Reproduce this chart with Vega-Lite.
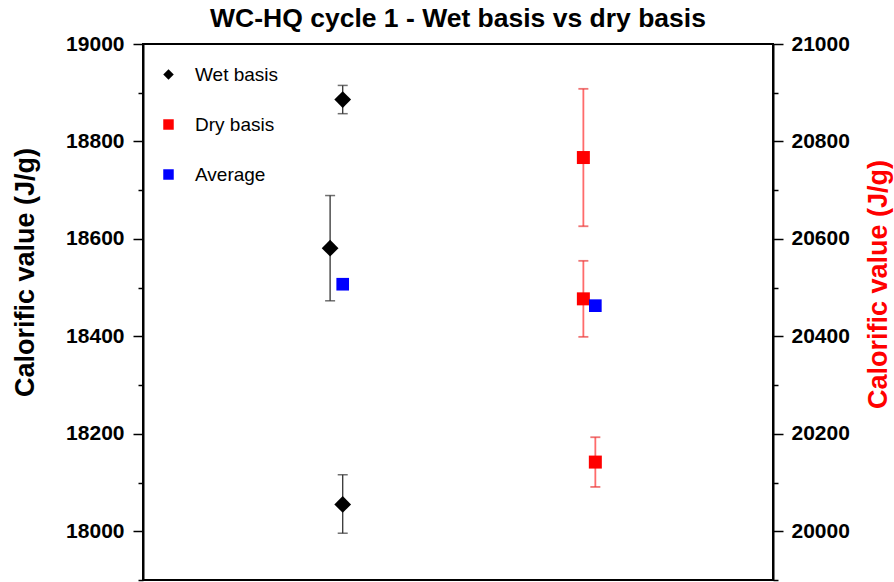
{
  "$schema": "https://vega.github.io/schema/vega-lite/v6.json",
  "autosize": {"type": "none"},
  "padding": {"left": 143, "top": 44, "right": 121, "bottom": 2},
  "width": 630,
  "height": 536,
  "background": "white",
  "title": {
    "text": "WC-HQ cycle 1 - Wet basis vs dry basis",
    "font": "Liberation Sans",
    "fontSize": 26.5,
    "fontWeight": "bold",
    "color": "black",
    "anchor": "middle",
    "frame": "group",
    "baseline": "alphabetic",
    "offset": 0,
    "dy": 20
  },
  "config": {
    "view": {"stroke": "black", "strokeWidth": 2},
    "font": "Liberation Sans",
    "legend": {
      "orient": "none",
      "legendX": 16,
      "legendY": 21,
      "title": null,
      "labelFont": "Liberation Sans",
      "labelFontSize": 19,
      "labelColor": "black",
      "symbolSize": 110,
      "rowPadding": 30,
      "labelOffset": 17,
      "padding": 0,
      "symbolStrokeWidth": 0
    }
  },
  "datasets": {
    "left": [
      {"series": "Wet basis", "x": 3.17, "v": 18886, "lo": 18857, "hi": 18915},
      {"series": "Wet basis", "x": 2.97, "v": 18581, "lo": 18473, "hi": 18689},
      {"series": "Wet basis", "x": 3.17, "v": 18055, "lo": 17996, "hi": 18116},
      {"series": "Average", "x": 3.17, "v": 18507}
    ],
    "right": [
      {"series": "Dry basis", "x": 6.99, "v": 20767, "lo": 20626, "hi": 20908},
      {"series": "Dry basis", "x": 6.99, "v": 20477, "lo": 20399, "hi": 20555},
      {"series": "Dry basis", "x": 7.18, "v": 20142, "lo": 20091, "hi": 20193},
      {"series": "Average", "x": 7.18, "v": 20463}
    ]
  },
  "layer": [
    {
      "data": {"name": "left"},
      "encoding": {
        "x": {"field": "x", "type": "quantitative", "scale": {"domain": [0, 10], "nice": false, "zero": false}, "axis": null},
        "y": {
          "field": "v",
          "type": "quantitative",
          "scale": {"domain": [17900, 19000], "nice": false, "zero": false},
          "axis": {
            "title": "Calorific value (J/g)",
            "orient": "left",
            "values": [17900, 18000, 18100, 18200, 18300, 18400, 18500, 18600, 18700, 18800, 18900, 19000],
            "format": "d",
            "labelExpr": "datum.value % 200 === 0 ? datum.label : ''",
            "tickSize": {"condition": {"test": "datum.value % 200 === 0", "value": 10}, "value": 5},
            "labelPadding": 9,
            "grid": false,
            "domainColor": "black",
            "domainWidth": 2,
            "tickColor": "black",
            "tickWidth": 1.5,
            "labelFont": "Liberation Sans",
            "labelFontSize": 21,
            "labelFontWeight": "bold",
            "labelColor": "black",
            "labelFlush": false,
            "labelOverlap": false,
            "titleFont": "Liberation Sans",
            "titleFontSize": 27,
            "titleFontWeight": "bold",
            "titleColor": "black",
            "titleAngle": 270,
            "titleX": -110,
            "titleY": 228,
            "titleAlign": "center",
            "titleBaseline": "alphabetic"
          }
        }
      },
      "layer": [
        {
          "transform": [{"filter": "isValid(datum.lo)"}],
          "mark": {"type": "rule", "color": "#333333", "strokeWidth": 1.3},
          "encoding": {"y": {"field": "lo", "type": "quantitative"}, "y2": {"field": "hi"}}
        },
        {
          "transform": [{"filter": "isValid(datum.lo)"}],
          "mark": {"type": "tick", "orient": "horizontal", "size": 10, "thickness": 1.5, "color": "#333333"},
          "encoding": {"y": {"field": "lo", "type": "quantitative"}}
        },
        {
          "transform": [{"filter": "isValid(datum.lo)"}],
          "mark": {"type": "tick", "orient": "horizontal", "size": 10, "thickness": 1.5, "color": "#333333"},
          "encoding": {"y": {"field": "hi", "type": "quantitative"}}
        },
        {
          "transform": [{"filter": "datum.series === 'Wet basis'"}],
          "mark": {"type": "point", "filled": true, "opacity": 1, "size": 280, "strokeWidth": 0},
          "encoding": {
            "color": {"field": "series", "type": "nominal", "scale": {"domain": ["Wet basis", "Dry basis", "Average"], "range": ["black", "red", "blue"]}},
            "shape": {"field": "series", "type": "nominal", "scale": {"domain": ["Wet basis", "Dry basis", "Average"], "range": ["diamond", "square", "square"]}}
          }
        },
        {
          "transform": [{"filter": "datum.series === 'Average'"}],
          "mark": {"type": "point", "filled": true, "opacity": 1, "size": 160, "strokeWidth": 0},
          "encoding": {
            "color": {"field": "series", "type": "nominal"},
            "shape": {"field": "series", "type": "nominal"}
          }
        }
      ]
    },
    {
      "data": {"name": "right"},
      "encoding": {
        "x": {"field": "x", "type": "quantitative", "scale": {"domain": [0, 10], "nice": false, "zero": false}, "axis": null},
        "y": {
          "field": "v",
          "type": "quantitative",
          "scale": {"domain": [19900, 21000], "nice": false, "zero": false},
          "axis": {
            "title": "Calorific value (J/g)",
            "orient": "right",
            "values": [19900, 20000, 20100, 20200, 20300, 20400, 20500, 20600, 20700, 20800, 20900, 21000],
            "format": "d",
            "labelExpr": "datum.value % 200 === 0 ? datum.label : ''",
            "tickSize": {"condition": {"test": "datum.value % 200 === 0", "value": 10}, "value": 5},
            "labelPadding": 8,
            "grid": false,
            "domainColor": "black",
            "domainWidth": 2,
            "tickColor": "black",
            "tickWidth": 1.5,
            "labelFont": "Liberation Sans",
            "labelFontSize": 21,
            "labelFontWeight": "bold",
            "labelColor": "black",
            "labelFlush": false,
            "labelOverlap": false,
            "titleFont": "Liberation Sans",
            "titleFontSize": 27,
            "titleFontWeight": "bold",
            "titleColor": "red",
            "titleAngle": 270,
            "titleX": 113,
            "titleY": 240,
            "titleAlign": "center",
            "titleBaseline": "alphabetic"
          }
        }
      },
      "layer": [
        {
          "transform": [{"filter": "isValid(datum.lo)"}],
          "mark": {"type": "rule", "color": "#ff6b6b", "strokeWidth": 1.8},
          "encoding": {"y": {"field": "lo", "type": "quantitative"}, "y2": {"field": "hi"}}
        },
        {
          "transform": [{"filter": "isValid(datum.lo)"}],
          "mark": {"type": "tick", "orient": "horizontal", "size": 10, "thickness": 1.8, "color": "#e83a3a"},
          "encoding": {"y": {"field": "lo", "type": "quantitative"}}
        },
        {
          "transform": [{"filter": "isValid(datum.lo)"}],
          "mark": {"type": "tick", "orient": "horizontal", "size": 10, "thickness": 1.8, "color": "#e83a3a"},
          "encoding": {"y": {"field": "hi", "type": "quantitative"}}
        },
        {
          "transform": [{"filter": "datum.series === 'Dry basis'"}],
          "mark": {"type": "point", "filled": true, "opacity": 1, "size": 169, "strokeWidth": 0},
          "encoding": {
            "color": {"field": "series", "type": "nominal"},
            "shape": {"field": "series", "type": "nominal"}
          }
        },
        {
          "transform": [{"filter": "datum.series === 'Average'"}],
          "mark": {"type": "point", "filled": true, "opacity": 1, "size": 160, "strokeWidth": 0},
          "encoding": {
            "color": {"field": "series", "type": "nominal"},
            "shape": {"field": "series", "type": "nominal"}
          }
        }
      ]
    }
  ],
  "resolve": {"scale": {"y": "independent"}}
}
